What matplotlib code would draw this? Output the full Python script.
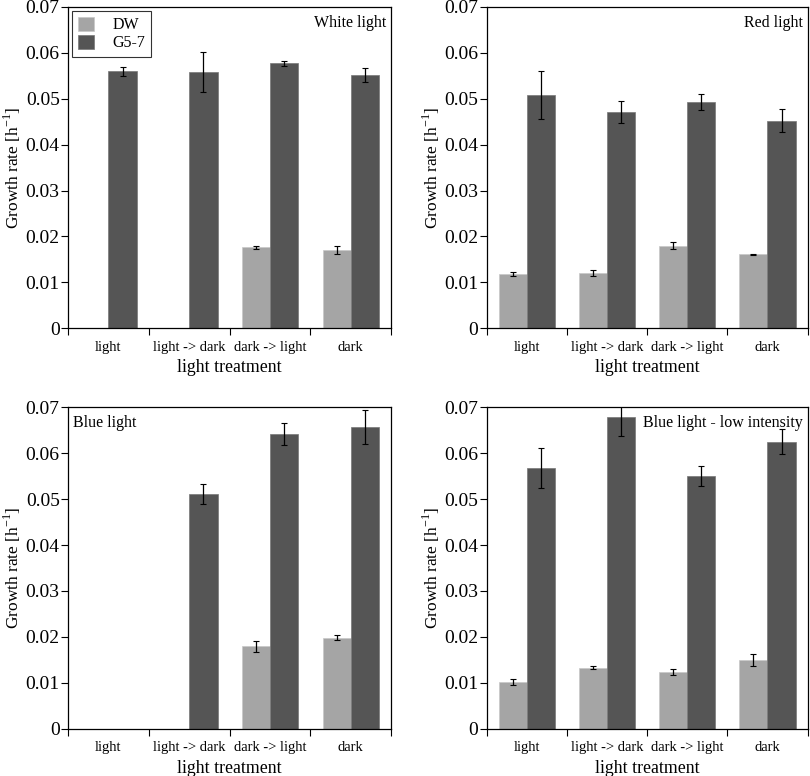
import matplotlib
matplotlib.use("Agg")
import matplotlib.pyplot as plt
import numpy as np

plt.rcParams['font.family'] = ['Liberation Serif', 'DejaVu Serif']
plt.rcParams['mathtext.fontset'] = 'custom'
plt.rcParams['mathtext.rm'] = 'Liberation Serif'

categories = ["light", "light -> dark", "dark -> light", "dark"]
nan = np.nan

# panel titles
titles = ["White light", "Red light", "Blue light", "Blue light - low intensity"]

# DW series (mean, error) per panel
dw_white = [nan, nan, 0.0176, 0.0171]
dw_white_err = [nan, nan, 0.0004, 0.0009]
dw_red = [0.0118, 0.0121, 0.0180, 0.0161]
dw_red_err = [0.0005, 0.0007, 0.0008, 0.0001]
dw_blue = [nan, nan, 0.0180, 0.0198]
dw_blue_err = [nan, nan, 0.0012, 0.0005]
dw_blue_low = [0.0102, 0.0133, 0.0124, 0.0149]
dw_blue_low_err = [0.0007, 0.0003, 0.0007, 0.0013]

# G5-7 series (mean, error) per panel
g57_white = [0.0560, 0.0558, 0.0577, 0.0552]
g57_white_err = [0.0010, 0.0044, 0.0006, 0.0015]
g57_red = [0.0509, 0.0472, 0.0493, 0.0452]
g57_red_err = [0.0052, 0.0024, 0.0017, 0.0025]
g57_blue = [nan, 0.0511, 0.0642, 0.0657]
g57_blue_err = [nan, 0.0022, 0.0025, 0.0037]
g57_blue_low = [0.0568, 0.0680, 0.0551, 0.0625]
g57_blue_low_err = [0.0044, 0.0042, 0.0022, 0.0027]

panels = [
    (titles[0], dw_white, dw_white_err, g57_white, g57_white_err),
    (titles[1], dw_red, dw_red_err, g57_red, g57_red_err),
    (titles[2], dw_blue, dw_blue_err, g57_blue, g57_blue_err),
    (titles[3], dw_blue_low, dw_blue_low_err, g57_blue_low, g57_blue_low_err),
]

col_dw = "#a5a5a5"
col_g = "#555555"

fig = plt.figure(figsize=(8.1, 7.76), dpi=100)
rects = [
    [0.084, 0.577, 0.399, 0.414],
    [0.601, 0.577, 0.396, 0.414],
    [0.084, 0.061, 0.399, 0.414],
    [0.601, 0.061, 0.396, 0.414],
]
title_pos = ["right", "right", "left", "right"]

x = np.arange(4) + 0.5
w = 0.35
for k, (title, dw, dwe, g, ge) in enumerate(panels):
    ax = fig.add_axes(rects[k])
    ekw = dict(ecolor="black", elinewidth=0.9, capsize=2, capthick=0.8)
    ax.bar(x - w / 2, dw, w, yerr=dwe, color=col_dw, edgecolor="#c8c8c8",
           linewidth=0.5, label="DW", error_kw=ekw)
    ax.bar(x + w / 2, g, w, yerr=ge, color=col_g, edgecolor="#777777",
           linewidth=0.5, label="G5-7", error_kw=ekw)
    ax.set_xlim(0, 4)
    ax.set_ylim(0, 0.07)
    ax.set_yticks(np.arange(0, 0.0701, 0.01))
    ax.set_yticklabels(["0"] + ["%.2f" % v for v in np.arange(0.01, 0.0701, 0.01)])
    ax.set_xticks(np.arange(5))
    ax.set_xticklabels([])
    ax.set_xticks(x, minor=True)
    ax.set_xticklabels(categories, minor=True, fontsize=10.5)
    ax.tick_params(axis="x", which="major", direction="out", length=5)
    ax.tick_params(axis="x", which="minor", length=0, pad=9)
    ax.tick_params(axis="y", direction="out", length=5, labelsize=14, pad=1)
    ax.set_xlabel("light treatment", fontsize=12.8, labelpad=4)
    ax.set_ylabel("Growth rate [h$^{-1}$]", fontsize=12.5, labelpad=2)
    for s in ax.spines.values():
        s.set_linewidth(0.9)
    if title_pos[k] == "right":
        ax.text(0.985, 0.975, title, transform=ax.transAxes, ha="right",
                va="top", fontsize=11.5)
    else:
        ax.text(0.015, 0.975, title, transform=ax.transAxes, ha="left",
                va="top", fontsize=11.5)
    if k == 0:
        leg = ax.legend(loc="upper left", fontsize=11.5, fancybox=False,
                        edgecolor="black", borderaxespad=0.25,
                        handlelength=1.0, handleheight=1.0, labelspacing=0.1,
                        borderpad=0.35, handletextpad=1.2)
        leg.get_frame().set_linewidth(0.8)

plt.savefig("out.png", dpi=100)
